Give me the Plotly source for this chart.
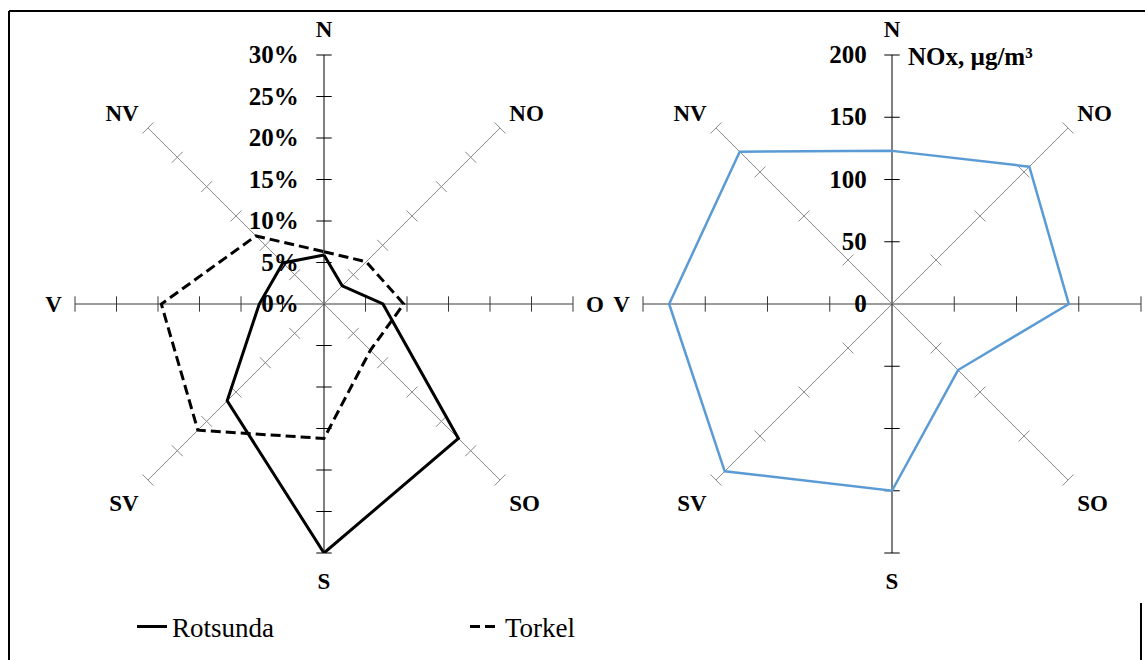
import plotly.graph_objects as go

# Wind directions (Swedish compass labels), clockwise from north
directions = ["N", "NO", "O", "SO", "S", "SV", "V", "NV"]
compass_deg = [0, 45, 90, 135, 180, 225, 270, 315]

# Share of time with wind from each direction (%)
rotsunda = [5.9, 3.1, 7.1, 22.9, 30.0, 16.5, 7.8, 7.0]
torkel = [6.3, 7.2, 9.6, 7.9, 16.2, 21.5, 19.6, 11.6]

# Mean NOx concentration per wind direction (µg/m³)
nox = [123, 156, 142, 75, 150, 190, 179, 173]

pct_ticks = [0, 5, 10, 15, 20, 25, 30]
pct_labels = ["0%", "5%", "10%", "15%", "20%", "25%", "30%"]
nox_ticks = [0, 50, 100, 150, 200]
nox_labels = ["0", "50", "100", "150", "200"]

SERIF = "Liberation Serif, Times New Roman, DejaVu Serif, serif"


def closed(values):
    return list(values) + [values[0]]


fig = go.Figure()


def add_spokes(subplot, ticks):
    rmax = ticks[-1]
    marks = ticks[1:]
    for d, ang in zip(directions, compass_deg):
        if ang in (0, 180):
            color = "#000000"
        elif ang in (90, 270):
            color = "#3a3a3a"
        else:
            color = "#8a8a8a"
        fig.add_trace(go.Scatterpolar(
            r=[0, rmax], theta=[d, d], mode="lines",
            line=dict(color=color, width=1),
            subplot=subplot, showlegend=False, hoverinfo="skip"))
        fig.add_trace(go.Scatterpolar(
            r=marks, theta=[d] * len(marks), mode="markers",
            marker=dict(symbol="line-ew", size=11, angle=ang,
                        line=dict(color=color, width=1)),
            subplot=subplot, showlegend=False, hoverinfo="skip"))


add_spokes("polar", pct_ticks)
add_spokes("polar2", nox_ticks)

fig.add_trace(go.Scatterpolar(
    r=closed(rotsunda), theta=closed(directions), mode="lines",
    name="Rotsunda", line=dict(color="black", width=3),
    subplot="polar"))
fig.add_trace(go.Scatterpolar(
    r=closed(torkel), theta=closed(directions), mode="lines",
    name="Torkel", line=dict(color="black", width=3, dash="10px,5px"),
    subplot="polar"))
fig.add_trace(go.Scatterpolar(
    r=closed(nox), theta=closed(directions), mode="lines",
    name="NOx", line=dict(color="#5b9bd5", width=2.5),
    subplot="polar2", showlegend=False))

label_font = dict(family=SERIF, size=23, color="black", weight="bold")
value_font = dict(family=SERIF, size=25, color="black", weight="bold")


def polar_layout(domain_x, rng, tickvals, ticktext, dir_text):
    return dict(
        domain=dict(x=domain_x, y=[107 / 660, 605 / 660]),
        bgcolor="rgba(0,0,0,0)",
        angularaxis=dict(
            type="category", categoryarray=directions,
            direction="clockwise", rotation=90,
            tickmode="array", tickvals=directions, ticktext=dir_text,
            showgrid=False, showline=False,
            ticks="outside", ticklen=8, tickcolor="rgba(0,0,0,0)",
            tickfont=label_font),
        radialaxis=dict(
            range=rng, angle=90, side="counterclockwise",
            showgrid=False, showline=False,
            tickmode="array", tickvals=tickvals, ticktext=ticktext,
            tickangle=90,
            ticks="outside", ticklen=16, tickcolor="rgba(0,0,0,0)",
            tickfont=value_font),
    )


# The right-hand rose runs to the page edge, so its east label is left blank
left_dirs = list(directions)
right_dirs = [d if d != "O" else "" for d in directions]

fig.update_layout(
    width=1145, height=660,
    margin=dict(l=0, r=0, t=0, b=0),
    paper_bgcolor="white",
    plot_bgcolor="white",
    font=dict(family=SERIF, color="black"),
    polar=polar_layout([75 / 1145, 573 / 1145], [0, 30],
                       pct_ticks, pct_labels, left_dirs),
    polar2=polar_layout([643 / 1145, 1141 / 1145], [0, 200],
                        nox_ticks, nox_labels, right_dirs),
    showlegend=True,
    legend=dict(
        orientation="h", x=132 / 1145, xanchor="left",
        y=33 / 660, yanchor="middle",
        font=dict(family=SERIF, size=27, color="black", weight="normal"),
        entrywidth=288, bgcolor="rgba(0,0,0,0)"),
    annotations=[dict(
        text="NOx, µg/m³", x=906 / 1145, y=(660 - 57) / 660,
        xref="paper", yref="paper", xanchor="left", yanchor="middle",
        showarrow=False,
        font=dict(family=SERIF, size=25, color="black", weight="bold"))],
    shapes=[
        dict(type="line", xref="paper", yref="paper",
             x0=9 / 1145, y0=0, x1=9 / 1145, y1=649 / 660,
             line=dict(color="black", width=2)),
        dict(type="line", xref="paper", yref="paper",
             x0=9 / 1145, y0=649 / 660, x1=1, y1=649 / 660,
             line=dict(color="black", width=2)),
        dict(type="line", xref="paper", yref="paper",
             x0=1141 / 1145, y0=0, x1=1141 / 1145, y1=57 / 660,
             line=dict(color="black", width=2)),
    ],
)

fig.write_html("out.html")
